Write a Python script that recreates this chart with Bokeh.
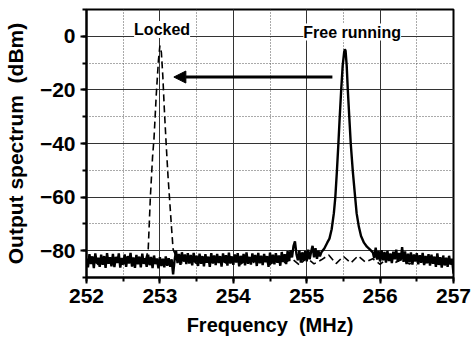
from bokeh.plotting import figure
from bokeh.models import (SingleIntervalTicker, Label, Arrow, NormalHead, Range1d)
from bokeh.embed import file_html
from bokeh.resources import INLINE

# ---- data ----
# free-running spectrum: left noise floor, peak, right noise floor
free_left_x = [
    252.00, 252.02, 252.04, 252.06, 252.08, 252.10, 252.12, 252.14, 252.16, 252.18,
    252.20, 252.22, 252.24, 252.26, 252.28, 252.30, 252.32, 252.34, 252.36, 252.38,
    252.40, 252.42, 252.44, 252.46, 252.48, 252.50, 252.52, 252.54, 252.56, 252.58,
    252.60, 252.62, 252.64, 252.66, 252.68, 252.70, 252.72, 252.74, 252.76, 252.78,
    252.80, 252.82, 252.84, 252.86, 252.88, 252.90, 252.92, 252.94, 252.96, 252.98,
    253.00, 253.02, 253.04, 253.06, 253.08, 253.10, 253.12, 253.14, 253.16, 253.18,
    253.20, 253.22, 253.24, 253.26, 253.28, 253.30, 253.32, 253.34, 253.36, 253.38,
    253.40, 253.42, 253.44, 253.46, 253.48, 253.50, 253.52, 253.54, 253.56, 253.58,
    253.60, 253.62, 253.64, 253.66, 253.68, 253.70, 253.72, 253.74, 253.76, 253.78,
    253.80, 253.82, 253.84, 253.86, 253.88, 253.90, 253.92, 253.94, 253.96, 253.98,
    254.00, 254.02, 254.04, 254.06, 254.08, 254.10, 254.12, 254.14, 254.16, 254.18,
    254.20, 254.22, 254.24, 254.26, 254.28, 254.30, 254.32, 254.34, 254.36, 254.38,
    254.40, 254.42, 254.44, 254.46, 254.48, 254.50, 254.52, 254.54, 254.56, 254.58,
    254.60, 254.62, 254.64, 254.66, 254.68, 254.70, 254.72, 254.74, 254.76, 254.78,
    254.80, 254.82, 254.84, 254.86, 254.88, 254.90, 254.92, 254.94, 254.96, 254.98,
    255.00, 255.02, 255.04, 255.06, 255.08, 255.10, 255.12, 255.14, 255.16, 255.18,
    255.20]
free_left_y = [
    -83.0, -86.2, -81.3, -85.0, -82.1, -86.5, -81.0, -84.7, -82.6, -86.0,
    -81.5, -85.3, -82.0, -86.4, -80.9, -84.9, -82.4, -85.8, -81.2, -86.1,
    -82.3, -84.6, -81.0, -86.3, -82.7, -85.2, -81.4, -86.0, -82.0, -84.8,
    -80.8, -85.9, -82.5, -86.4, -81.6, -85.1, -82.2, -86.2, -81.1, -84.9,
    -82.8, -86.0, -81.5, -85.4, -82.3, -86.5, -81.8, -85.0, -82.9, -86.6,
    -82.4, -85.7, -83.0, -86.2, -82.1, -85.6, -82.8, -86.0, -83.2, -88.8,
    -83.5, -80.1, -84.6, -81.2, -85.3, -80.6, -84.1, -81.4, -85.0, -80.9,
    -84.8, -81.6, -85.5, -80.8, -84.3, -81.9, -85.7, -81.1, -84.9, -82.0,
    -85.8, -81.3, -84.5, -82.2, -86.0, -80.9, -84.7, -81.8, -85.4, -81.2,
    -84.6, -82.0, -85.9, -81.0, -84.2, -81.7, -85.6, -80.7, -84.8, -82.1,
    -85.3, -81.4, -84.4, -80.9, -85.8, -81.9, -84.6, -81.2, -85.5, -80.6,
    -84.9, -82.3, -85.2, -81.0, -84.1, -81.6, -85.7, -80.8, -84.7, -81.9,
    -85.4, -81.2, -84.3, -82.0, -86.0, -80.7, -84.8, -81.5, -85.1, -80.9,
    -84.5, -81.8, -85.6, -80.5, -84.2, -81.3, -85.0, -80.2, -83.9, -79.8,
    -82.5, -78.3, -76.5, -81.2, -83.6, -79.9, -84.4, -80.6, -83.8, -80.1,
    -84.0, -79.6, -83.2, -80.4, -78.2, -82.5, -79.1, -83.0, -80.0, -82.1,
    -80.6]

free_peak_x = [255.24, 255.28, 255.31, 255.34, 255.37, 255.39, 255.41, 255.43, 255.45, 255.47,
               255.49, 255.51, 255.52, 255.53, 255.545, 255.56, 255.58, 255.60, 255.63, 255.66,
               255.68, 255.71, 255.74, 255.78, 255.82, 255.86]
free_peak_y = [-79.2, -77.0, -75.5, -72.0, -66.0, -60.0, -51.0, -41.0, -30.0, -20.0,
               -11.0, -6.0, -4.8, -5.5, -11.0, -20.0, -30.0, -40.0, -51.0, -60.0,
               -66.0, -71.0, -74.5, -77.0, -78.5, -79.5]

free_right_x = [
    255.90, 255.92, 255.94, 255.96, 255.98, 256.00, 256.02, 256.04, 256.06, 256.08,
    256.10, 256.12, 256.14, 256.16, 256.18, 256.20, 256.22, 256.24, 256.26, 256.28,
    256.30, 256.32, 256.34, 256.36, 256.38, 256.40, 256.42, 256.44, 256.46, 256.48,
    256.50, 256.52, 256.54, 256.56, 256.58, 256.60, 256.62, 256.64, 256.66, 256.68,
    256.70, 256.72, 256.74, 256.76, 256.78, 256.80, 256.82, 256.84, 256.86, 256.88,
    256.90, 256.92, 256.94, 256.96, 256.98, 257.00]
free_right_y = [
    -80.6, -82.8, -78.9, -83.3, -80.2, -84.0, -79.8, -83.6, -80.5, -84.4,
    -80.1, -83.9, -81.0, -84.6, -80.4, -83.2, -79.6, -84.1, -80.8, -83.5,
    -78.7, -84.2, -80.3, -85.0, -81.1, -84.3, -80.6, -85.2, -81.4, -84.0,
    -80.9, -85.1, -81.7, -84.5, -80.8, -85.4, -82.0, -84.7, -81.3, -85.6,
    -81.5, -84.9, -82.2, -86.0, -81.0, -85.3, -82.4, -86.3, -81.8, -85.5,
    -82.6, -86.0, -81.9, -85.2, -83.0, -88.6]

locked_x = [252.00, 252.08, 252.16, 252.24, 252.32, 252.40, 252.48, 252.56, 252.64, 252.72,
            252.80, 252.84, 252.87, 252.90, 252.92, 252.95, 252.98, 253.00, 253.02, 253.04,
            253.06, 253.085, 253.11, 253.13, 253.16, 253.18, 253.22, 253.30, 253.40, 253.50,
            253.60, 253.70, 253.80, 253.90, 254.00, 254.10, 254.20, 254.30, 254.40, 254.50,
            254.60, 254.70, 254.80, 254.90, 255.00, 255.10, 255.20, 255.30, 255.40, 255.50,
            255.60, 255.70, 255.80, 255.90, 256.00, 256.10, 256.20, 256.30, 256.40, 256.50,
            256.60, 256.70, 256.80, 256.90, 257.00]
locked_y = [-84.0, -82.8, -85.2, -83.1, -84.9, -82.6, -85.0, -83.4, -84.6, -82.9,
            -83.8, -80.0, -60.0, -45.0, -38.0, -22.0, -9.0, -3.5, -6.0, -15.0,
            -27.0, -40.0, -52.0, -60.0, -72.0, -79.5, -82.0, -84.5, -82.7, -84.8,
            -83.0, -85.1, -82.9, -84.6, -83.2, -85.0, -82.8, -84.7, -83.1, -85.2,
            -82.6, -84.4, -83.0, -85.3, -82.7, -84.9, -83.4, -81.6, -84.8, -82.1,
            -84.6, -81.9, -84.3, -83.0, -85.1, -82.8, -84.5, -83.2, -85.0, -82.9,
            -84.7, -83.3, -85.2, -83.0, -84.4]

x_label = "Frequency\u00a0 (MHz)"
y_label = "Output spectrum\u00a0 (dBm)"
label_locked = "Locked"
label_free = "Free running"

FONT = "Liberation Sans"

free_x = free_left_x + free_peak_x + free_right_x
free_y = free_left_y + free_peak_y + free_right_y

p = figure(width=472, height=345, output_backend="svg", toolbar_location=None,
           x_range=Range1d(252, 257), y_range=Range1d(-90, 10),
           min_border_left=86, min_border_right=19, min_border_top=9, min_border_bottom=68)
p.background_fill_color = "white"
p.border_fill_color = "white"
p.outline_line_color = "black"
p.outline_line_width = 2

p.xaxis.ticker = SingleIntervalTicker(interval=1, num_minor_ticks=2)
p.yaxis.ticker = SingleIntervalTicker(interval=20, num_minor_ticks=2)

for ax in (p.xaxis[0], p.yaxis[0]):
    ax.axis_line_color = "black"
    ax.axis_line_width = 2
    ax.major_tick_in = 0
    ax.major_tick_out = 6
    ax.minor_tick_in = 0
    ax.minor_tick_out = 4
    ax.major_tick_line_width = 2
    ax.minor_tick_line_width = 2
    ax.major_label_text_font = FONT
    ax.major_label_text_font_style = "bold"
    ax.major_label_text_font_size = "21px"
    ax.major_label_text_color = "black"
    ax.axis_label_text_font = FONT
    ax.axis_label_text_font_style = "bold"
    ax.axis_label_text_color = "black"

p.xaxis.axis_label = x_label
p.yaxis.axis_label = y_label
p.xaxis.axis_label_text_font_size = "20px"
p.yaxis.axis_label_text_font_size = "21px"
p.xaxis.axis_label_standoff = 8
p.yaxis.axis_label_standoff = 10
p.xaxis.major_label_standoff = 5

for g in (p.xgrid[0], p.ygrid[0]):
    g.grid_line_color = "#333333"
    g.grid_line_width = 1
    g.minor_grid_line_color = "#555555"
    g.minor_grid_line_dash = "1 2"
    g.minor_grid_line_width = 1

p.line(locked_x, locked_y, line_color="black", line_width=1.6, line_dash="7 4")
p.line(free_x, free_y, line_color="black", line_width=2.4)

p.add_layout(Arrow(end=NormalHead(size=12, fill_color="black", line_color="black"),
                   x_start=255.35, y_start=-15.2, x_end=253.19, y_end=-15.2,
                   line_color="black", line_width=3))

for txt, tx, ty in ((label_locked, 253.03, 2.5), (label_free, 255.62, 1.6)):
    p.add_layout(Label(x=tx, y=ty, text=txt, text_align="center", text_baseline="middle",
                       text_font=FONT, text_font_style="bold", text_font_size="16px",
                       text_color="black", background_fill_color="white",
                       background_fill_alpha=1.0))

open("out.html", "w").write(file_html(p, INLINE))
